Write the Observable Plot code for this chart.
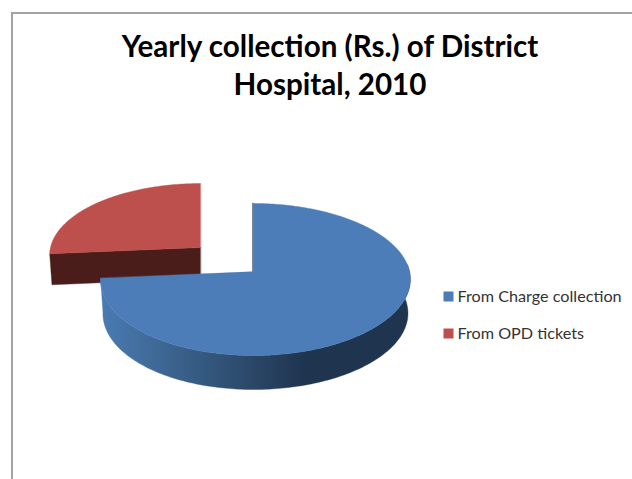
<!DOCTYPE html>
<html>
<head>
<meta charset="utf-8">
<script src="https://cdn.jsdelivr.net/npm/d3@7"></script>
<script src="https://cdn.jsdelivr.net/npm/@observablehq/plot@0.6"></script>
<style>
html,body{margin:0;padding:0;background:#fff;overflow:hidden}
#frame{position:absolute;left:10.5px;top:12px;right:0;bottom:0;border-left:2px solid #a3a3a3;border-top:2px solid #a3a3a3;pointer-events:none}
#chart{position:absolute;left:0;top:0}
</style>
</head>
<body>
<div id="chart"></div>
<div id="frame"></div>
<script>
const titleLines = ["Yearly collection (Rs.) of District", "Hospital, 2010"];
const categories = ["From Charge collection", "From OPD tickets"];
const shares = [73.6, 26.4];
const colors = ["#4c7db8", "#bd4f4c"];

const W = 632, H = 479, STEP = 1;
const total = d3.sum(shares);
const cut = shares[0] / total * 360;   // the blue slice runs clockwise from 12 o'clock

// perspective view of a flat disc
const blueView = {cx: 253, cy: 271, rx: 154, bend: 2, ry: 75.2, k: 0.105, dx: 0.985, depth: 34};
const redView  = {cx: 200, cy: 247, rx: 150, bend: 0, ry: 70.7, k: 0.105, dx: 0.985, depth: 31};
function rim(view, deg, r = 1, low = false) {
  const a = deg * Math.PI / 180, u = r * Math.sin(a), v = r * Math.cos(a), w = 1 + view.k * v;
  const s = low ? view.dx : 1;
  return {
    x: view.cx + s * (view.rx * u / w + view.bend * u * u),
    y: view.cy - view.ry * v / w + (low ? view.depth : 0)
  };
}
const arc = (view, a, b, low) => d3.range(a, b, STEP).concat(b).map(d => rim(view, d, 1, low));

const blueTop = [rim(blueView, 0, 0), ...arc(blueView, 0, cut)];
const blueSide = [...arc(blueView, 85, cut), ...arc(blueView, 85, cut, true).reverse()];
const blueWall = [rim(blueView, 0), rim(blueView, 0, 0)];
const redTop = [rim(redView, 0, 0), ...arc(redView, cut, 360)];
const redFace = [rim(redView, 0, 0), rim(redView, cut), rim(redView, cut, 1, true), rim(redView, 0, 0, true)];

const poly = (pts, fill) => Plot.line(pts, {x: "x", y: "y", fill, stroke: fill, strokeWidth: 0.4, curve: "linear-closed"});

const sideGradient = () => {
  const defs = d3.create("svg:defs");
  const g = defs.append("linearGradient").attr("id", "blueSide")
    .attr("gradientUnits", "userSpaceOnUse")
    .attr("x1", 100).attr("x2", 305).attr("y1", 0).attr("y2", 0);
  g.append("stop").attr("offset", 0).attr("stop-color", "#4a7bb3");
  g.append("stop").attr("offset", 0.5).attr("stop-color", "#35597f");
  g.append("stop").attr("offset", 1).attr("stop-color", "#1f344f");
  return defs.node();
};

const legendRows = categories.map((name, i) => ({name, color: colors[i], y: 296 + i * 37}));
const titleRows = titleLines.map((text, i) => ({text, y: 47 + i * 38.5}));

const chart = Plot.plot({
  width: W, height: H,
  margin: 0,
  x: {type: "linear", domain: [0, W], range: [0, W], axis: null},
  y: {type: "linear", domain: [0, H], range: [0, H], axis: null},
  style: {background: "transparent"},
  marks: [
    sideGradient,
    poly(redFace, "#4a1d1b"),
    poly(redTop, colors[1]),
    poly(blueSide, "url(#blueSide)"),
    Plot.line(blueWall, {x: "x", y: "y", stroke: "#1f344f", strokeWidth: 1.2, dx: -0.5}),
    poly(blueTop, colors[0]),
    Plot.text(titleRows, {x: () => 329.5, y: "y", text: "text", fontFamily: "Lato", fontWeight: 700, fontSize: 29.6, fill: "#000", textAnchor: "middle"}),
    Plot.dot(legendRows, {x: () => 448, y: "y", symbol: "square", r: 5.64, fill: "color", stroke: "none"}),
    Plot.text(legendRows, {x: () => 457, y: "y", text: "name", fontFamily: "Lato", fontSize: 16.2, fill: "#333", textAnchor: "start"})
  ]
});
document.getElementById("chart").append(chart);
</script>
</body>
</html>
